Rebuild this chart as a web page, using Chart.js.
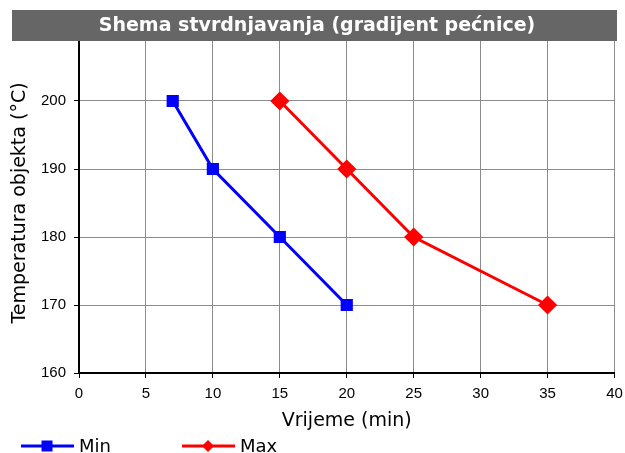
<!DOCTYPE html>
<html><head><meta charset="utf-8">
<script src="https://cdn.jsdelivr.net/npm/chart.js@4"></script>
<style>html,body{margin:0;padding:0;background:#fff}#wrap{width:625px;height:453px}</style>
</head><body><div id="wrap"><canvas id="c" width="625" height="453"></canvas></div>
<script>
const chartTitle = "Shema stvrdnjavanja (gradijent pećnice)";
const xTitle = "Vrijeme (min)";
const yTitle = "Temperatura objekta (°C)";
const seriesNames = ["Min", "Max"];
const minTimes = [7, 10, 15, 20];
const minTemps = [200, 190, 180, 170];
const maxTimes = [15, 20, 25, 35];
const maxTemps = [200, 190, 180, 170];
const xTicks = [0, 5, 10, 15, 20, 25, 30, 35, 40];
const yTicks = [160, 170, 180, 190, 200];

const toPts = (xs, ys) => xs.map((x, i) => ({x, y: ys[i]}));

const titleBar = {
  id: 'titleBar',
  afterDraw(chart) {
    const ctx = chart.ctx;
    ctx.save();
    ctx.fillStyle = '#666666';
    ctx.fillRect(12, 10, 605, 31);
    ctx.fillStyle = '#ffffff';
    ctx.font = 'bold 19px "DejaVu Sans", Verdana, sans-serif';
    ctx.textAlign = 'center';
    ctx.textBaseline = 'middle';
    ctx.fillText(chartTitle, 317, 26);
    // legend
    const ds = chart.data.datasets;
    const items = [{x: 21}, {x: 182}];
    ds.forEach((d, i) => {
      const x0 = items[i].x, y = 446;
      ctx.strokeStyle = d.borderColor;
      ctx.lineWidth = 3;
      ctx.beginPath(); ctx.moveTo(x0, y); ctx.lineTo(x0 + 53, y); ctx.stroke();
      ctx.fillStyle = d.borderColor;
      const cx = x0 + 26;
      if (i === 0) { ctx.fillRect(cx - 5.5, y - 5.5, 11, 11); }
      else { ctx.beginPath(); ctx.moveTo(cx, y - 6); ctx.lineTo(cx + 6, y); ctx.lineTo(cx, y + 6); ctx.lineTo(cx - 6, y); ctx.closePath(); ctx.fill(); }
      ctx.fillStyle = '#000';
      ctx.font = '18px "DejaVu Sans", Verdana, sans-serif';
      ctx.textAlign = 'left';
      ctx.fillText(d.label, x0 + 58, y + 1);
    });
    ctx.restore();
  }
};

new Chart(document.getElementById('c'), {
  type: 'scatter',
  data: {
    datasets: [
      {label: seriesNames[0], data: toPts(minTimes, minTemps), showLine: true, borderColor: '#0000ff', backgroundColor: '#0000ff', borderWidth: 3, pointStyle: 'rect', pointRadius: 6.5, pointHoverRadius: 6.5},
      {label: seriesNames[1], data: toPts(maxTimes, maxTemps), showLine: true, borderColor: '#ff0000', backgroundColor: '#ff0000', borderWidth: 3, pointStyle: 'rectRot', pointRadius: 7.5, pointHoverRadius: 7.5}
    ]
  },
  options: {
    responsive: false,
    animation: false,
    layout: {padding: {left: 5, right: 5, top: 33, bottom: 17}},
    plugins: {legend: {display: false}, tooltip: {enabled: false}, title: {display: false}},
    scales: {
      x: {
        type: 'linear', min: 0, max: 40,
        afterBuildTicks: s => { s.ticks = xTicks.map(v => ({value: v})); },
        afterFit: s => { s.height = 63; },
        grid: {color: '#8c8c8c', lineWidth: 1, tickLength: 5, tickColor: '#000'},
        border: {color: '#000', width: 2},
        ticks: {color: '#000', font: {family: '"Liberation Sans", Arial, sans-serif', size: 15, lineHeight: 2.13}, padding: 0, maxRotation: 0},
        title: {display: true, text: xTitle, color: '#000', font: {family: '"DejaVu Sans", Verdana, sans-serif', size: 19}, padding: {top: 4}}
      },
      y: {
        type: 'linear', min: 160, max: 210,
        afterBuildTicks: s => { s.ticks = yTicks.concat([210]).map(v => ({value: v})); },
        afterFit: s => { s.width = 74; },
        grid: {color: '#8c8c8c', lineWidth: 1, tickLength: 5, tickColor: '#000'},
        border: {color: '#000', width: 2},
        ticks: {color: '#000', font: {family: '"Liberation Sans", Arial, sans-serif', size: 15}, padding: 8, callback: v => v === 210 ? '' : v},
        title: {display: true, text: yTitle, color: '#000', font: {family: '"DejaVu Sans", Verdana, sans-serif', size: 19}, padding: {bottom: 4}}
      }
    }
  },
  plugins: [titleBar]
});
</script></body></html>
